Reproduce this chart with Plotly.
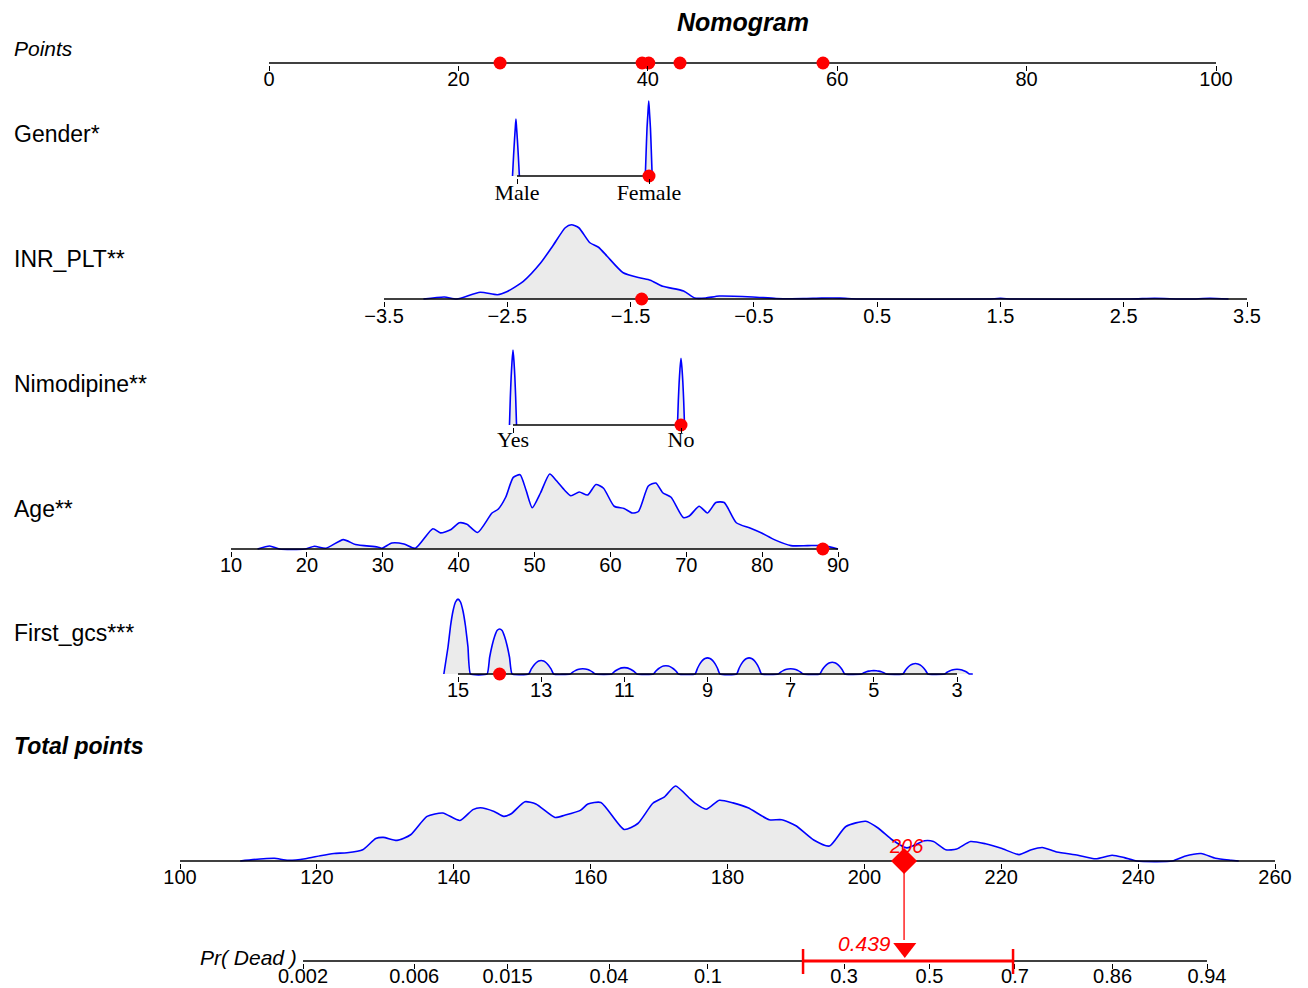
import math
import plotly.graph_objects as go

# ======================= DATA =======================
title_text = "Nomogram"
row_names = ["Points", "Gender*", "INR_PLT**", "Nimodipine**", "Age**",
             "First_gcs***", "Total points", "Pr( Dead )"]

points_ticks = [0, 20, 40, 60, 80, 100]

gender_levels = ["Male", "Female"]            # positions 0, 1
gender_male_x = [-0.034, -0.026, -0.019, -0.013, -0.008, -0.003, 0.003, 0.010, 0.018]
gender_male_y = [0, 0.27, 0.48, 0.64, 0.76, 0.64, 0.48, 0.27, 0]
gender_female_x = [0.972, 0.979, 0.985, 0.992, 0.998, 1.004, 1.011, 1.017, 1.024]
gender_female_y = [0, 0.36, 0.64, 0.84, 1.00, 0.84, 0.64, 0.36, 0]

inr_ticks = [-3.5, -2.5, -1.5, -0.5, 0.5, 1.5, 2.5, 3.5]
inr_x = [-3.18, -3.01, -2.91, -2.72, -2.58, -2.50, -2.37, -2.23, -2.13, -2.03,
         -1.98, -1.92, -1.83, -1.76, -1.69, -1.56, -1.42, -1.34, -1.24, -1.07,
         -0.98, -0.89, -0.78, -0.51, -0.32, -0.10, 0.05, 0.20, 0.35, 1.40, 1.50,
         1.60, 2.55, 2.75, 2.95, 3.05, 3.20, 3.35]
inr_y = [0, 0.027, 0, 0.09, 0.057, 0.10, 0.236, 0.48, 0.71, 0.95,
         0.99, 0.95, 0.75, 0.69, 0.57, 0.35, 0.28, 0.25, 0.17, 0.107,
         0.013, 0.013, 0.04, 0.027, 0.007, 0.005, 0.012, 0.012, 0, 0, 0.008,
         0, 0, 0.01, 0, 0, 0.01, 0]

nimo_levels = ["Yes", "No"]                   # positions 0, 1
nimo_yes_x = [-0.021, -0.016, -0.011, -0.006, 0.000, 0.006, 0.011, 0.016, 0.021]
nimo_yes_y = [0, 0.36, 0.64, 0.84, 1.00, 0.84, 0.64, 0.36, 0]
nimo_no_x = [0.979, 0.984, 0.989, 0.994, 1.000, 1.006, 1.011, 1.016, 1.021]
nimo_no_y = [0, 0.32, 0.57, 0.75, 0.89, 0.75, 0.57, 0.32, 0]

age_ticks = [10, 20, 30, 40, 50, 60, 70, 80, 90]
age_x = [13.5, 15.1, 16.4, 19.7, 21.0, 22.5, 24.8, 26.4, 29.3, 29.9, 31.2, 32.8,
         34.3, 36.6, 37.6, 39.0, 40.1, 41.1, 42.5, 44.4, 45.2, 46.2, 47.2, 48.1,
         48.9, 49.7, 50.8, 52.0, 52.9, 54.0, 54.8, 55.9, 57.0, 58.1, 59.1, 60.5,
         61.8, 62.9, 63.7, 65.0, 66.0, 66.9, 68.0, 69.6, 70.4, 71.7, 72.8, 73.9,
         75.0, 76.6, 78.4, 80.0, 81.6, 83.8, 86.0, 88.1, 90.0]
age_y = [0, 0.04, 0, 0, 0.036, 0.01, 0.125, 0.06, 0.027, 0.01, 0.08, 0.067,
         0.01, 0.27, 0.215, 0.26, 0.35, 0.33, 0.22, 0.48, 0.53, 0.69, 0.955, 0.99,
         0.78, 0.55, 0.75, 1.0, 0.91, 0.78, 0.71, 0.76, 0.72, 0.86, 0.81, 0.57,
         0.54, 0.48, 0.50, 0.84, 0.88, 0.75, 0.69, 0.42, 0.44, 0.57, 0.48, 0.62,
         0.62, 0.35, 0.28, 0.21, 0.125, 0.045, 0.045, 0.045, 0]

gcs_ticks = [15, 13, 11, 9, 7, 5, 3]
# one arch per GCS score (edge, shoulder, upper shoulder, top, ...)
gcs_x = [15.34, 15.24, 15.18, 15.12, 15.06, 15.00, 14.94, 14.88, 14.82, 14.76, 14.70,
         14.30, 14.24, 14.18, 14.12, 14.06, 14.00, 13.94, 13.88, 13.82, 13.76, 13.70,
         13.30, 13.24, 13.18, 13.12, 13.06, 13.00, 12.94, 12.88, 12.82, 12.76, 12.70,
         12.30, 12.24, 12.18, 12.12, 12.06, 12.00, 11.94, 11.88, 11.82, 11.76, 11.70,
         11.30, 11.24, 11.18, 11.12, 11.06, 11.00, 10.94, 10.88, 10.82, 10.76, 10.70,
         10.30, 10.24, 10.18, 10.12, 10.06, 10.00, 9.94, 9.88, 9.82, 9.76, 9.70,
         9.30, 9.24, 9.18, 9.12, 9.06, 9.00, 8.94, 8.88, 8.82, 8.76, 8.70,
         8.30, 8.24, 8.18, 8.12, 8.06, 8.00, 7.94, 7.88, 7.82, 7.76, 7.70,
         7.30, 7.24, 7.18, 7.12, 7.06, 7.00, 6.94, 6.88, 6.82, 6.76, 6.70,
         6.30, 6.24, 6.18, 6.12, 6.06, 6.00, 5.94, 5.88, 5.82, 5.76, 5.70,
         5.30, 5.24, 5.18, 5.12, 5.06, 5.00, 4.94, 4.88, 4.82, 4.76, 4.70,
         4.30, 4.24, 4.18, 4.12, 4.06, 4.00, 3.94, 3.88, 3.82, 3.76, 3.70,
         3.30, 3.24, 3.18, 3.12, 3.06, 3.00, 2.94, 2.88, 2.82, 2.76, 2.70, 2.62]
gcs_y = [0, 0.36, 0.64, 0.84, 0.96, 1.00, 0.96, 0.84, 0.64, 0.36, 0,
         0, 0.22, 0.38, 0.50, 0.58, 0.60, 0.58, 0.50, 0.38, 0.22, 0,
         0, 0.065, 0.115, 0.15, 0.173, 0.18, 0.173, 0.15, 0.115, 0.065, 0,
         0, 0.025, 0.045, 0.059, 0.067, 0.07, 0.067, 0.059, 0.045, 0.025, 0,
         0, 0.031, 0.054, 0.071, 0.082, 0.085, 0.082, 0.071, 0.054, 0.031, 0,
         0, 0.040, 0.070, 0.092, 0.106, 0.11, 0.106, 0.092, 0.070, 0.040, 0,
         0, 0.077, 0.138, 0.181, 0.206, 0.215, 0.206, 0.181, 0.138, 0.077, 0,
         0, 0.077, 0.138, 0.181, 0.206, 0.215, 0.206, 0.181, 0.138, 0.077, 0,
         0, 0.025, 0.045, 0.059, 0.067, 0.07, 0.067, 0.059, 0.045, 0.025, 0,
         0, 0.057, 0.100, 0.132, 0.151, 0.157, 0.151, 0.132, 0.100, 0.057, 0,
         0, 0.016, 0.029, 0.038, 0.043, 0.045, 0.043, 0.038, 0.029, 0.016, 0,
         0, 0.050, 0.090, 0.118, 0.134, 0.14, 0.134, 0.118, 0.090, 0.050, 0,
         0, 0.023, 0.040, 0.053, 0.060, 0.063, 0.060, 0.053, 0.040, 0.023, 0, 0]

total_ticks = [100, 120, 140, 160, 180, 200, 220, 240, 260]
total_x = [108.8, 112.2, 113.8, 115.8, 118.3, 120.5, 122.5, 124.4, 126.7, 128.6,
           129.7, 131.7, 133.7, 136.1, 138.4, 140.9, 142.8, 143.9, 145.9, 147.3,
           148.4, 150.4, 152.0, 154.8, 156.2, 158.5, 159.6, 161.5, 164.9, 166.9,
           169.1, 170.8, 172.4, 174.4, 175.2, 176.9, 178.8, 180.8, 183.0, 186.1,
           187.9, 190.0, 192.6, 194.9, 197.3, 200.2, 202.0, 204.1, 206.2, 208.8,
           210.1, 211.9, 213.5, 215.5, 217.7, 220.0, 222.6, 224.4, 226.0, 228.1,
           231.2, 233.8, 236.2, 238.0, 239.8, 245.0, 246.8, 249.2, 251.3, 253.6,
           254.7]
total_y = [0, 0.03, 0.036, 0.01, 0.03, 0.07, 0.10, 0.11, 0.15, 0.30,
           0.315, 0.275, 0.35, 0.595, 0.64, 0.54, 0.685, 0.71, 0.66, 0.595,
           0.63, 0.79, 0.76, 0.58, 0.61, 0.675, 0.76, 0.78, 0.42, 0.50,
           0.77, 0.855, 1.0, 0.84, 0.775, 0.69, 0.81, 0.775, 0.71, 0.55,
           0.55, 0.47, 0.28, 0.20, 0.46, 0.53, 0.44, 0.28, 0.175, 0.27,
           0.26, 0.15, 0.16, 0.26, 0.23, 0.17, 0.085, 0.15, 0.18, 0.12,
           0.077, 0.03, 0.077, 0.045, 0, 0, 0.063, 0.10, 0.036, 0.01,
           0]

pr_ticks = [0.002, 0.006, 0.015, 0.04, 0.1, 0.3, 0.5, 0.7, 0.86, 0.94]
pr_tick_labels = ["0.002", "0.006", "0.015", "0.04", "0.1", "0.3", "0.5", "0.7", "0.86", "0.94"]

# the patient shown in red
patient_gender = 1          # Female
patient_inr = -1.41
patient_nimo = 1            # No
patient_age = 88
patient_gcs = 14
patient_points = [40.1, 39.4, 43.4, 58.5, 24.4]   # Gender, INR_PLT, Nimodipine, Age, First_gcs
pred_prob = 0.439
pred_ci = [0.222, 0.696]

# ======================= GEOMETRY / STYLE =======================
W, H = 1308, 988
SANS = "Liberation Sans, Arial, sans-serif"
SERIF = "Liberation Serif, Times New Roman, serif"
BLUE = "#0000FF"
FILL = "#EBEBEB"
RED = "#FF0000"


def logit(p):
    return math.log(p / (1 - p))


rows = [
    dict(ay=63, v0=0, px0=269, v1=100, px1=1216, tv=points_ticks,
         tt=[str(t) for t in points_ticks], font=SANS, fs=20, so=-9),
    dict(ay=176, v0=0, px0=517, v1=1, px1=649, tv=[0, 1], tt=gender_levels, font=SERIF, fs=22, so=-10),
    dict(ay=299, v0=-3.5, px0=384, v1=3.5, px1=1247, tv=inr_ticks,
         tt=["\u22123.5", "\u22122.5", "\u22121.5", "\u22120.5", "0.5", "1.5", "2.5", "3.5"],
         font=SANS, fs=20, so=-8),
    dict(ay=425, v0=0, px0=513, v1=1, px1=681, tv=[0, 1], tt=nimo_levels, font=SERIF, fs=22, so=-12),
    dict(ay=549, v0=10, px0=231, v1=90, px1=838, tv=age_ticks,
         tt=[str(t) for t in age_ticks], font=SANS, fs=20, so=-9),
    dict(ay=674, v0=15, px0=458, v1=3, px1=957, tv=gcs_ticks,
         tt=[str(t) for t in gcs_ticks], font=SANS, fs=20, so=-9),
    dict(ay=861, v0=100, px0=180, v1=260, px1=1275, tv=total_ticks,
         tt=[str(t) for t in total_ticks], font=SANS, fs=20, so=-9),
    dict(ay=961, v0=logit(0.002), px0=303, v1=logit(0.94), px1=1207,
         tv=[logit(p) for p in pr_ticks], tt=pr_tick_labels, font=SANS, fs=20, so=-10),
]
axis_ends = [(0, 100), (0, 1), (-3.5, 3.5), (0, 1), (10, 90), (15, 3), (100, 260),
             (logit(0.002), logit(0.94))]
label_y = [48, 134, 259, 384, 509, 633, 746]

PXU = 75.0
PAD = 2.0
TOPPX = 95.0

fig = go.Figure()
lay = {}
refs = []
for i, r in enumerate(rows, start=1):
    xa = "xaxis" if i == 1 else f"xaxis{i}"
    ya = "yaxis" if i == 1 else f"yaxis{i}"
    xr = "x" if i == 1 else f"x{i}"
    yr = "y" if i == 1 else f"y{i}"
    refs.append((xr, yr))
    s = (r["v1"] - r["v0"]) / (r["px1"] - r["px0"])
    rng = [r["v0"] - r["px0"] * s, r["v0"] + (W - r["px0"]) * s]
    top_px = max(r["ay"] - TOPPX, 0)
    bot_px = r["ay"] + PAD
    lay[xa] = dict(domain=[0, 1], range=rng, anchor=yr, showgrid=False, zeroline=False,
                   showline=False, ticks="outside", ticklen=5, tickwidth=1.3,
                   tickcolor="black", tickmode="array", tickvals=r["tv"], ticktext=r["tt"],
                   tickfont=dict(family=r["font"], size=r["fs"], color="black"),
                   ticklabelstandoff=r["so"], fixedrange=True)
    lay[ya] = dict(domain=[1 - bot_px / H, 1 - top_px / H],
                   range=[-PAD / PXU, (r["ay"] - top_px) / PXU],
                   visible=False, anchor=xr, fixedrange=True)


def dens(i, xs, ys, smooth=0.6):
    xr, yr = refs[i]
    fig.add_trace(go.Scatter(x=xs, y=ys, xaxis=xr, yaxis=yr, mode="lines",
                             line=dict(color=BLUE, width=1.6, shape="spline", smoothing=smooth),
                             fill="tozeroy", fillcolor=FILL, hoverinfo="skip",
                             showlegend=False))


dens(1, gender_male_x, gender_male_y)
dens(1, gender_female_x, gender_female_y)
dens(2, inr_x, inr_y)
dens(3, nimo_yes_x, nimo_yes_y)
dens(3, nimo_no_x, nimo_no_y)
dens(4, age_x, age_y)
dens(5, gcs_x, gcs_y, smooth=0.4)
dens(6, total_x, total_y)

# axis lines
for i, (a, b) in enumerate(axis_ends):
    xr, yr = refs[i]
    fig.add_trace(go.Scatter(x=[a, b], y=[0, 0], xaxis=xr, yaxis=yr, mode="lines",
                             line=dict(color="black", width=1.6), hoverinfo="skip",
                             showlegend=False))


def dots(i, xs, size=13, symbol="circle", y=0):
    xr, yr = refs[i]
    fig.add_trace(go.Scatter(x=xs, y=[y] * len(xs), xaxis=xr, yaxis=yr, mode="markers",
                             marker=dict(color=RED, size=size, symbol=symbol, line=dict(width=0)),
                             cliponaxis=False, hoverinfo="skip", showlegend=False))


dots(0, patient_points)
dots(1, [patient_gender])
dots(2, [patient_inr])
dots(3, [patient_nimo])
dots(4, [patient_age])
dots(5, [patient_gcs])

total_pts = sum(patient_points)
dots(6, [total_pts], size=20, symbol="diamond")

# CI line on probability axis
fig.add_trace(go.Scatter(x=[logit(pred_ci[0]), logit(pred_ci[1])], y=[0, 0],
                         xaxis="x8", yaxis="y8", mode="lines",
                         line=dict(color=RED, width=3), hoverinfo="skip", showlegend=False))
dots(7, [logit(pred_prob)], size=20, symbol="triangle-down", y=13 / PXU)

shapes = []
for c in pred_ci:
    shapes.append(dict(type="line", xref="x8", yref="paper", x0=logit(c), x1=logit(c),
                       y0=1 - 949 / H, y1=1 - 974 / H, line=dict(color=RED, width=2.5),
                       layer="above"))
shapes.append(dict(type="line", xref="x7", yref="paper", x0=total_pts, x1=total_pts,
                   y0=1 - 861 / H, y1=1 - 940 / H, line=dict(color=RED, width=1.3),
                   layer="below"))

ann = []
ann.append(dict(text="<b><i>" + title_text + "</i></b>", x=743 / W, y=1 - 22 / H,
                xref="paper", yref="paper", showarrow=False, xanchor="center", yanchor="middle",
                font=dict(family=SANS, size=25, color="black")))
for k, name in enumerate(row_names[:7]):
    if k == 0:
        txt = "<i>" + name + "</i>"
        fs = 21
    elif k == 6:
        txt = "<b><i>" + name + "</i></b>"
        fs = 23
    else:
        txt = name
        fs = 23
    ann.append(dict(text=txt, x=12 / W, y=1 - label_y[k] / H, xref="paper", yref="paper",
                    showarrow=False, xanchor="left", yanchor="middle",
                    font=dict(family=SANS, size=fs, color="black")))
ann.append(dict(text="<i>" + row_names[7] + "</i>", x=299 / W, y=1 - 957 / H,
                xref="paper", yref="paper", showarrow=False, xanchor="right", yanchor="middle",
                font=dict(family=SANS, size=21, color="black")))
ann.append(dict(text="<i>%d</i>" % round(total_pts), x=total_pts, y=0, xref="x7", yref="y7",
                showarrow=False, xanchor="center", yanchor="middle", yshift=15, xshift=2,
                font=dict(family=SANS, size=20, color=RED)))
ann.append(dict(text="<i>%.3f</i>" % pred_prob, x=logit(pred_prob), y=0, xref="x8", yref="y8",
                showarrow=False, xanchor="right", yanchor="middle", yshift=18, xshift=-12,
                font=dict(family=SANS, size=21, color=RED)))

fig.update_layout(width=W, height=H, margin=dict(l=0, r=0, t=0, b=0),
                  paper_bgcolor="white", plot_bgcolor="white",
                  shapes=shapes, annotations=ann, showlegend=False, **lay)

fig.write_html("out.html")
